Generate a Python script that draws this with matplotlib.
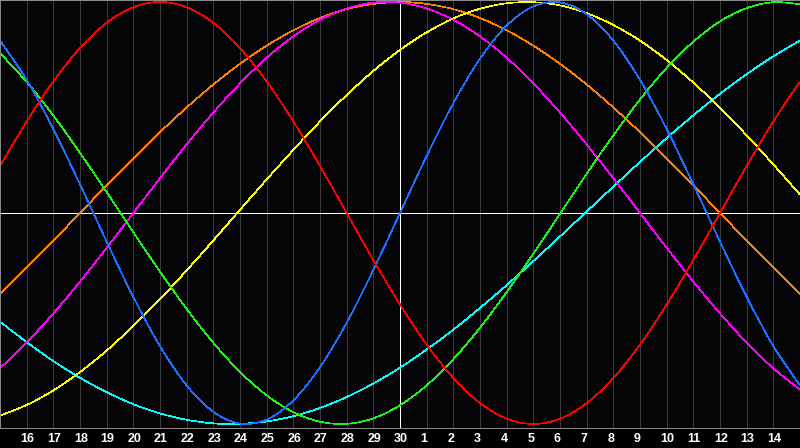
import matplotlib
matplotlib.use("Agg")
import matplotlib.pyplot as plt
import matplotlib.transforms as mtransforms
from matplotlib.path import Path
from matplotlib.patches import PathPatch

# day labels along the bottom (day index 1..29), index 15 = today
day_labels = ["16", "17", "18", "19", "20", "21", "22", "23", "24", "25", "26", "27", "28", "29", "30",
              "1", "2", "3", "4", "5", "6", "7", "8", "9", "10", "11", "12", "13", "14"]
days = list(range(31))

# cycle values, one per day index 0..30 (range -1..1)
red = [0.223, 0.434, 0.624, 0.782, 0.901, 0.975, 1.000, 0.975, 0.901, 0.782, 0.624, 0.434, 0.223, 0.000,
       -0.223, -0.434, -0.624, -0.782, -0.901, -0.975, -1.000, -0.975, -0.901, -0.782, -0.624, -0.434,
       -0.223, 0.000, 0.223, 0.434, 0.624]
blue = [0.817, 0.631, 0.398, 0.136, -0.136, -0.398, -0.631, -0.817, -0.942, -0.998, -0.979, -0.888, -0.731,
        -0.520, -0.270, 0.000, 0.270, 0.520, 0.731, 0.888, 0.979, 0.998, 0.942, 0.817, 0.631, 0.398, 0.136,
        -0.136, -0.398, -0.631, -0.817]
green = [0.758, 0.621, 0.462, 0.285, 0.099, -0.091, -0.278, -0.455, -0.615, -0.753, -0.864, -0.944, -0.989,
         -0.999, -0.973, -0.911, -0.817, -0.693, -0.544, -0.375, -0.193, -0.004, 0.186, 0.368, 0.538, 0.688,
         0.812, 0.908, 0.971, 0.999, 0.990]
yellow = [-0.960, -0.910, -0.841, -0.754, -0.652, -0.535, -0.408, -0.272, -0.130, 0.015, 0.159, 0.299, 0.434,
          0.559, 0.673, 0.773, 0.856, 0.922, 0.968, 0.994, 0.999, 0.984, 0.947, 0.891, 0.817, 0.725, 0.618,
          0.498, 0.368, 0.230, 0.087]
orange = [-0.383, -0.259, -0.131, 0.000, 0.131, 0.259, 0.383, 0.500, 0.609, 0.707, 0.793, 0.866, 0.924, 0.966,
          0.991, 1.000, 0.991, 0.966, 0.924, 0.866, 0.793, 0.707, 0.609, 0.500, 0.383, 0.259, 0.131, 0.000,
          -0.131, -0.259, -0.383]
magenta = [-0.736, -0.614, -0.476, -0.325, -0.165, 0.000, 0.165, 0.325, 0.476, 0.614, 0.736, 0.837, 0.916,
           0.969, 0.997, 0.997, 0.969, 0.916, 0.837, 0.736, 0.614, 0.476, 0.325, 0.165, 0.000, -0.165, -0.325,
           -0.476, -0.614, -0.736, -0.837]
cyan = [-0.515, -0.612, -0.702, -0.781, -0.849, -0.906, -0.950, -0.980, -0.997, -0.999, -0.988, -0.963, -0.924,
        -0.872, -0.808, -0.733, -0.647, -0.553, -0.450, -0.342, -0.228, -0.111, 0.007, 0.125, 0.242, 0.355,
        0.463, 0.565, 0.658, 0.743, 0.817]

px = 0.72  # one pixel in points at dpi 100


def smooth_path(xs, ys):
    # catmull-rom through the points, drawn as cubic bezier segments
    n = len(xs)
    verts = [(xs[0], ys[0])]
    codes = [Path.MOVETO]
    for i in range(n - 1):
        x0, y0 = xs[max(i - 1, 0)], ys[max(i - 1, 0)]
        x1, y1 = xs[i], ys[i]
        x2, y2 = xs[i + 1], ys[i + 1]
        x3, y3 = xs[min(i + 2, n - 1)], ys[min(i + 2, n - 1)]
        verts += [(x1 + (x2 - x0) / 6, y1 + (y2 - y0) / 6),
                  (x2 - (x3 - x1) / 6, y2 - (y3 - y1) / 6),
                  (x2, y2)]
        codes += [Path.CURVE4] * 3
    return Path(verts, codes)


fig = plt.figure(figsize=(8, 4.48), dpi=100, facecolor="#000000")
ax = fig.add_axes([0, 20 / 448, 1, 428 / 448])
ax.set_facecolor("#050508")
ax.set_xlim(0, 30)
ax.set_ylim(-1.019, 1.0095)
ax.set_xticks([])
ax.set_yticks([])

for i in range(1, 30):
    if i != 15:
        ax.axvline(i, color="#3a3a3a", lw=px, antialiased=False, zorder=1)
ax.axhline(0, color="white", lw=px, antialiased=False, zorder=1)
ax.axvline(15, color="white", lw=px, antialiased=False, zorder=1)

for vals, col in [(cyan, "#00ffff"), (orange, "#ff8000"), (magenta, "#ff00ff"), (yellow, "#ffff00"),
                  (green, "#20f020"), (blue, "#1e6eff"), (red, "#ff0000")]:
    ax.add_patch(PathPatch(smooth_path(days, vals), fill=False, edgecolor=col, lw=0.5,
                           antialiased=False, zorder=2))

for side in ["left", "top", "bottom"]:
    ax.spines[side].set_color("#8a8a8a")
    ax.spines[side].set_linewidth(px)
ax.spines["right"].set_visible(False)

# labels sit left-aligned just left of each gridline
trans = ax.get_xaxis_transform() + mtransforms.ScaledTranslation(-6 / 100, 0, fig.dpi_scale_trans)
for i, lab in enumerate(day_labels, start=1):
    ax.text(i, -11 / 428, lab, transform=trans, ha="left", va="center", color="white",
            fontsize=9, fontweight="bold", family="Liberation Sans", clip_on=False)

fig.savefig("out.png", dpi=100, facecolor=fig.get_facecolor())
